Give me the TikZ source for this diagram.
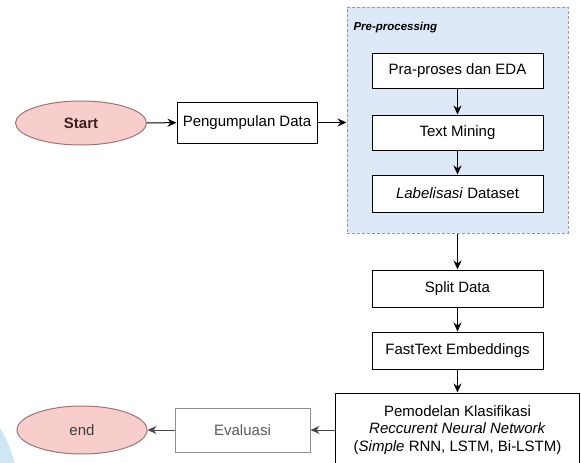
\documentclass[tikz,border=0pt]{standalone}
\usepackage{fontspec}
\setmainfont{Liberation Sans}
\usetikzlibrary{arrows.meta,shapes.geometric}

\definecolor{procfill}{HTML}{DDE8F8}
\definecolor{termfill}{HTML}{F8CECC}
\definecolor{termline}{HTML}{9C7474}
\definecolor{starttext}{HTML}{3D2222}
\definecolor{fadeline}{HTML}{8E8E8E}
\definecolor{fadetext}{HTML}{5A5A5A}
\definecolor{wmark}{HTML}{CFE6F4}
\newcommand\boxfont{\fontsize{15}{17.5}\selectfont}

\begin{document}
\begin{tikzpicture}[x=1pt, y=-1pt, line width=1pt,
	every node/.style={font=\boxfont, inner sep=0pt},
	>={Stealth[length=9pt,width=8pt]},
	term/.style={ellipse, draw=termline, fill=termfill, minimum width=131, minimum height=44},
	stepbox/.style={draw, fill=white, minimum width=171, minimum height=36, align=center}]
	\useasboundingbox (0,0) rectangle (581,463);
	\clip (0,0) rectangle (581,463);
	\fill[wmark] (-124.5,500) circle (144);

	% first row
	\node[term, text=starttext, font=\boxfont\bfseries] (start) at (81,123) {Start};
	\node[stepbox, minimum width=140, minimum height=41] (collect) at (247,122.5) {Pengumpulan Data};

	% pre-processing group
	\node[draw=gray!80, dash pattern=on 3pt off 2pt, fill=procfill, minimum width=221, minimum height=226] (prep) at (457.5,120) {};
	\node[anchor=west, font=\fontsize{11.5}{13}\selectfont\bfseries\itshape] (preplabel) at (353,28) {Pre-processing};
	\node[stepbox, minimum height=35] (clean) at (457.5,70.5) {Pra-proses dan EDA};
	\node[stepbox, minimum height=35] (mining) at (457.5,132.5) {Text Mining};
	\node[stepbox, minimum height=37] (label) at (457.5,193.5) {\textit{Labelisasi} Dataset};

	% down the right column
	\node[stepbox, minimum height=37] (split) at (457.5,288.5) {Split Data};
	\node[stepbox, minimum height=37] (embed) at (457.5,350.5) {FastText Embeddings};
	\node[stepbox, minimum width=244, minimum height=74] (model) at (457.5,430) {Pemodelan Klasifikasi\\\textit{Reccurent Neural Network}\\(\textit{Simple} RNN, LSTM, Bi-LSTM)};

	% last row, back to the left
	\node[stepbox, draw=fadeline, text=fadetext, minimum width=135, minimum height=44] (eval) at (242.5,430) {Evaluasi};
	\node[term, text=fadetext!70!black, minimum width=130, minimum height=48] (end) at (82,430) {end};

	\draw[->] (start) -- (collect);
	\draw[->] (collect.east) -- (collect.east -| prep.west);
	\draw[->] (clean) -- (mining);
	\draw[->] (mining) -- (label);
	\draw[->] (prep) -- (split);
	\draw[->] (split) -- (embed);
	\draw[->] (embed) -- (model);
	\draw[->, fadetext!80!black] (model) -- (eval);
	\draw[->, fadetext!80!black] (eval) -- (end);
\end{tikzpicture}
\end{document}
